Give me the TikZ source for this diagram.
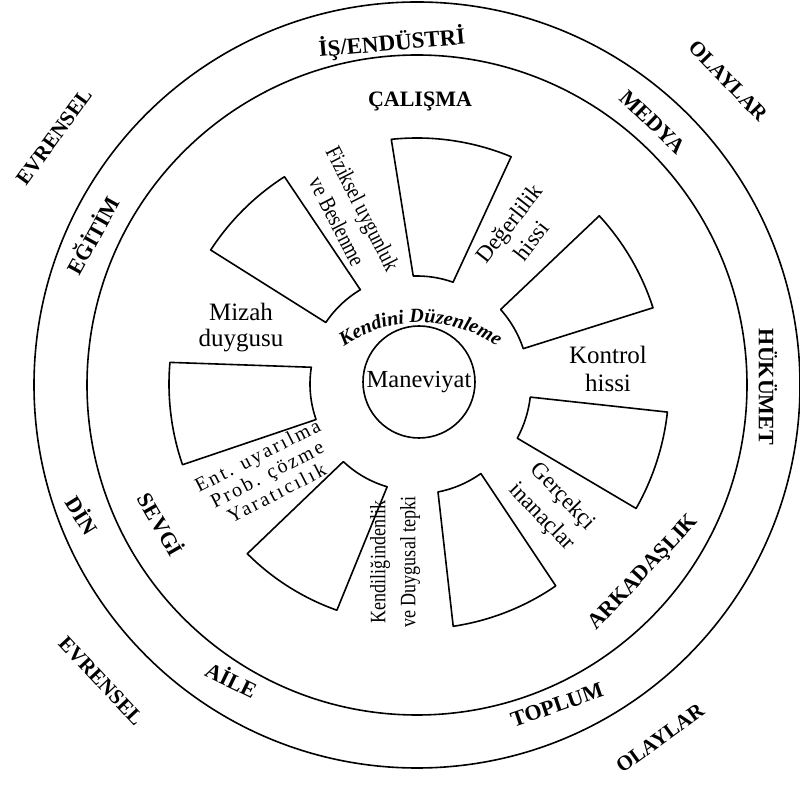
\documentclass[tikz,border=0pt]{standalone}
\usepackage{fontspec}
\setmainfont{Liberation Serif}
\newfontfamily\condfont[FakeStretch=0.82]{Liberation Serif}
\newfontfamily\spacedfont[LetterSpace=12]{Liberation Serif}
\usetikzlibrary{decorations.text}
\newcommand\wedgebox[6]{\draw[box,shift={(417,400)}] (#1:#5) arc[start angle=#1,end angle=#2,radius=#5] -- (#4:#6) arc[start angle=#4,end angle=#3,radius=#6] -- cycle;}
\begin{document}
\begin{tikzpicture}[x=1pt,y=1pt,
  ring/.style={draw,line width=1.6pt},
  box/.style={draw,line width=1.6pt,line join=round},
  caps/.style={font=\bfseries\fontsize{22}{22}\selectfont,inner sep=0pt},
  outcaps/.style={font=\bfseries\fontsize{21}{21}\selectfont,inner sep=0pt},
  lbl/.style={font=\fontsize{23}{28}\selectfont,align=center,inner sep=0pt},
  biglbl/.style={font=\fontsize{25}{26}\selectfont,align=center,inner sep=0pt},
  condlbl/.style={font=\condfont\fontsize{23}{29}\selectfont,align=center,inner sep=0pt},
  spacedlbl/.style={font=\spacedfont\fontsize{20}{21}\selectfont,align=center,inner sep=0pt}]
\useasboundingbox (0,0) rectangle (800,784);
\coordinate (c) at (417,400);
% rings
\draw[ring] (417,399) circle[radius=383];
\draw[ring] (417,399) circle[radius=330];
% centre
\node[draw,circle,line width=1.6pt,minimum size=112,inner sep=0pt,font=\fontsize{24.5}{25}\selectfont] (man) at (419,402) {Maneviyat};
% sectors
\wedgebox{96}{67.5}{92}{70.5}{246}{108}
\wedgebox{42.7}{17.9}{41.7}{18.4}{248}{112}
\wedgebox{-6.4}{-29.6}{-6.6}{-28.4}{252}{114}
\wedgebox{278.5}{304.5}{281}{305.5}{245}{110}
\wedgebox{225}{250.5}{226.5}{253.8}{240}{107}
\wedgebox{175}{199}{171}{199.4}{248}{107}
\wedgebox{147}{122.6}{146}{121}{246}{110}
% curved label
\path[decorate,decoration={text along path,text align=center,
  text={|\bfseries\itshape\fontsize{20}{20}\selectfont|Kendini Düzenleme}}]
  (420.5,326.5) ++(128:135) arc[start angle=128,end angle=52,radius=135];
% inner labels
\node[biglbl] (mizah) at (241,456) {Mizah\\duygusu};
\node[biglbl,font=\fontsize{25}{28}\selectfont] (kontrol) at (608,415) {Kontrol\\hissi};
\node[lbl,rotate=52] (deger) at (520,552) {Değerlilik\\hissi};
\node[condlbl,rotate=-63] (fiz) at (350,569) {Fiziksel uygunluk\\ve Beslenme};
\node[spacedlbl,rotate=27] (ent) at (267,310) {Ent. uyarılma\\Prob. çözme\\Yaratıcılık};
\node[condlbl,font=\condfont\fontsize{22}{30}\selectfont,rotate=90] (kend) at (395,222) {Kendiliğindenlik\\ve Duygusal tepki};
\node[lbl,font=\fontsize{23}{29}\selectfont,rotate=-46] (gerc) at (552,277) {Gerçekçi\\inanaçlar};
% middle ring labels
\node[caps] (calisma) at (420,683) {ÇALIŞMA};
\node[caps,rotate=-60] (sevgi) at (162,260) {SEVGİ};
\node[caps,rotate=47] (arkadas) at (644,211) {ARKADAŞLIK};
% outer ring labels
\node[caps,font=\bfseries\fontsize{23}{23}\selectfont,rotate=5] (is) at (392,741) {İŞ/ENDÜSTRİ};
\node[caps,rotate=-44] (medya) at (653,662) {MEDYA};
\node[caps,rotate=61] (egitim) at (92,549) {EĞİTİM};
\node[caps,rotate=-58] (din) at (83,269) {DİN};
\node[caps,rotate=-26] (aile) at (232,105) {AİLE};
\node[caps,rotate=19] (toplum) at (557,79) {TOPLUM};
\node[caps,rotate=-90] (hukumet) at (768,397) {HÜKÜMET};
% outside labels
\node[outcaps,rotate=54] (ev1) at (54,647) {EVRENSEL};
\node[outcaps,rotate=-46] (ol1) at (728,703) {OLAYLAR};
\node[outcaps,rotate=-47] (ev2) at (101,103) {EVRENSEL};
\node[outcaps,rotate=36] (ol2) at (660,46) {OLAYLAR};
\end{tikzpicture}
\end{document}
